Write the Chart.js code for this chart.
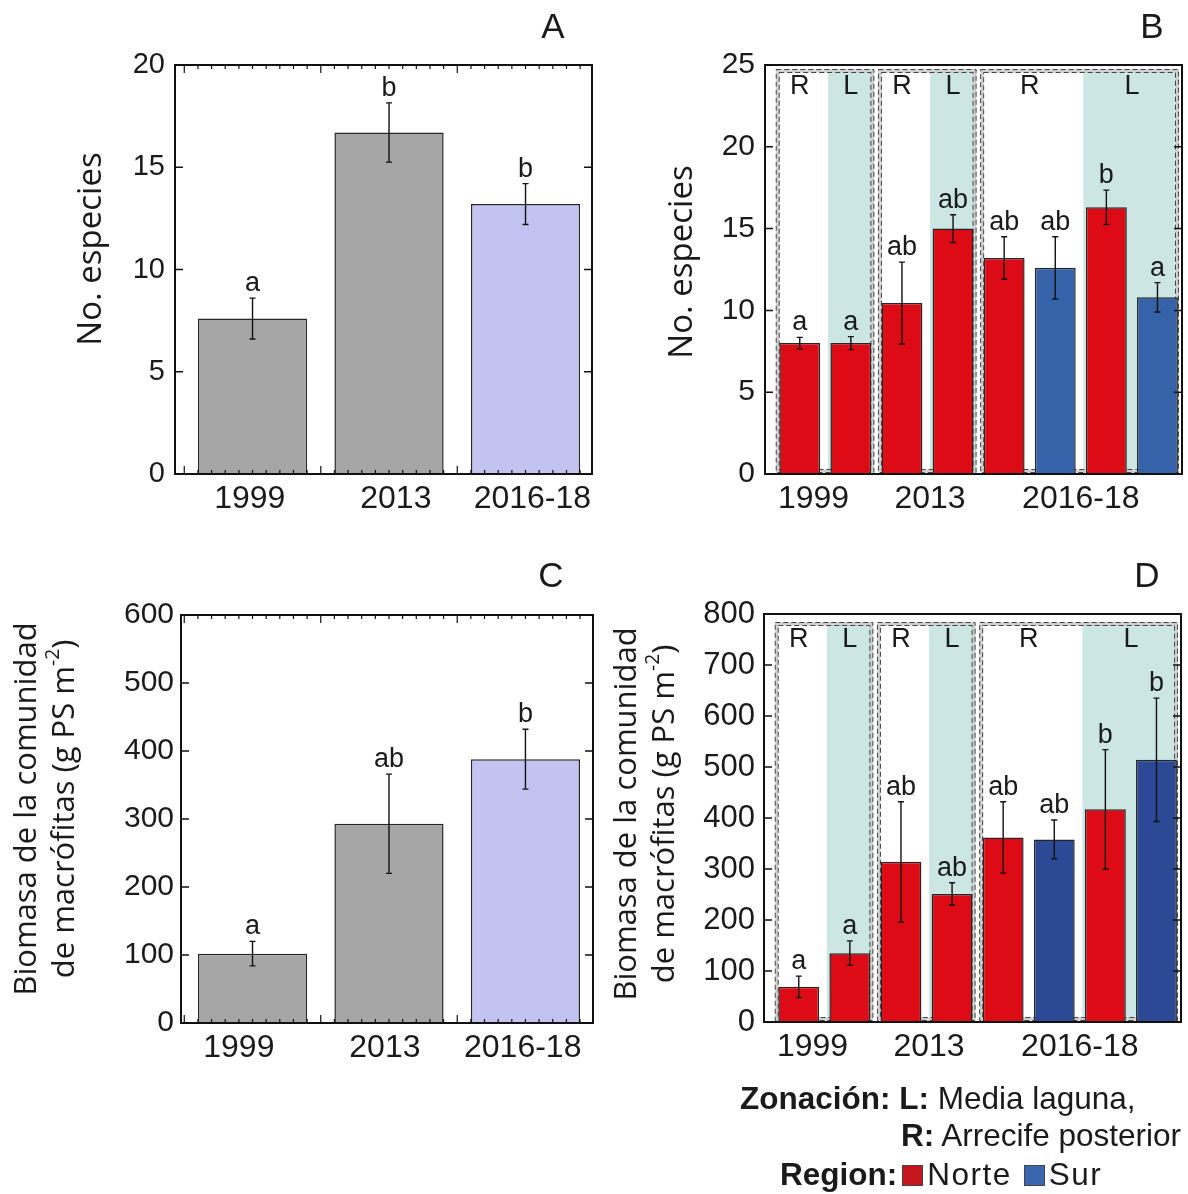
<!DOCTYPE html>
<html>
<head>
<meta charset="utf-8">
<script src="https://cdn.jsdelivr.net/npm/chart.js@4.4.1/dist/chart.umd.min.js"></script>
<style>
  html, body { margin: 0; padding: 0; background: #fff; }
  #page { position: relative; width: 1188px; height: 1194px; overflow: hidden; background: #fff; }
  #page canvas { position: absolute; }
  .leg { position: absolute; font-family: "Liberation Sans", Arial, Helvetica, sans-serif; font-size: 31.5px;
         color: #1a1a1a; white-space: nowrap; line-height: 1; }
  .leg b { font-weight: bold; }
  .sw { display: inline-block; width: 21px; height: 21px; box-sizing: border-box; border: 1px solid #444;
        vertical-align: -1px; margin: 0 4px 0 5px; }
</style>
</head>
<body>
<div id="page">
  <canvas id="panelA" width="600" height="545" style="left:0;top:0"></canvas>
  <canvas id="panelB" width="588" height="545" style="left:600px;top:0"></canvas>
  <canvas id="panelC" width="600" height="545" style="left:0;top:545px"></canvas>
  <canvas id="panelD" width="588" height="545" style="left:600px;top:545px"></canvas>

  <div class="leg" style="left:740px;top:1083px"><b>Zonación: L:</b> Media laguna,</div>
  <div class="leg" style="left:901px;top:1120px"><b>R:</b> Arrecife posterior</div>
  <div class="leg" style="left:780px;top:1159px"><b>Region:</b><span class="sw" style="background:#c4161c"></span><span style="letter-spacing:1.5px">Norte</span><span class="sw" style="background:#3a66b0;margin-left:12px"></span><span style="letter-spacing:1.5px">Sur</span></div>
</div>

<script>
// ---- Periods (panels A and C) ----
const periodLabels = ['1999', '2013', '2016-18'];

const speciesByPeriod = [7.6, 16.7, 13.2];
const speciesByPeriodSE = [1.0, 1.45, 1.0];
const speciesByPeriodLetters = ['a', 'b', 'b'];

const biomassByPeriod = [102, 293, 388];
const biomassByPeriodSE = [18, 73, 44];
const biomassByPeriodLetters = ['a', 'ab', 'b'];

// ---- Sites by period, zone and region (panels B and D) ----
const sitePeriod = ['1999', '1999', '2013', '2013', '2016-18', '2016-18', '2016-18', '2016-18'];
const siteZone   = ['R', 'L', 'R', 'L', 'R', 'R', 'L', 'L'];
const siteRegion = ['Norte', 'Norte', 'Norte', 'Norte', 'Norte', 'Sur', 'Norte', 'Sur'];

const speciesBySite = [8.0, 8.0, 10.45, 15.0, 13.2, 12.6, 16.3, 10.8];
const speciesBySiteSE = [0.35, 0.4, 2.5, 0.85, 1.3, 1.9, 1.05, 0.9];
const speciesBySiteLetters = ['a', 'a', 'ab', 'ab', 'ab', 'ab', 'b', 'a'];

const biomassBySite = [69, 135, 314, 251, 362, 358, 417, 514];
const biomassBySiteSE = [21, 24, 118, 22, 70, 38, 117, 121];
const biomassBySiteLetters = ['a', 'a', 'ab', 'ab', 'ab', 'ab', 'b', 'b'];

// ---- Axis ticks ----
const speciesTicksA = { max: 20, step: 5 };
const speciesTicksB = { max: 25, step: 5 };
const biomassTicksC = { max: 600, step: 100 };
const biomassTicksD = { max: 800, step: 100 };

// ---- Styling ----
const BODY = '"Liberation Sans", Arial, Helvetica, sans-serif';
const HUMAN = '"Open Sans", "Noto Sans", sans-serif';
const INK = '#1a1a1a';
const periodFill = ['#a6a6a6', '#a6a6a6', '#c3c3f2'];
const zoneShade = '#cce6e4';

Chart.defaults.font.family = BODY;
Chart.defaults.color = INK;

// contiguous runs of equal values -> [{value, first, last}]
function runs(arr) {
  const out = [];
  arr.forEach((v, i) => {
    const last = out[out.length - 1];
    if (last && last.value === v) last.last = i; else out.push({ value: v, first: i, last: i });
  });
  return out;
}

// draws a line of text made of segments, some of them superscript, centred on (0, y)
function drawRich(ctx, segs, y, size) {
  const parts = segs.map(s => {
    const fs = s.sup ? size * 0.62 : size;
    ctx.font = `${fs}px ${HUMAN}`;
    return { t: s.t, fs, w: ctx.measureText(s.t).width, sup: !!s.sup };
  });
  const total = parts.reduce((a, p) => a + p.w, 0);
  let cx = -total / 2;
  parts.forEach(p => {
    ctx.font = `${p.fs}px ${HUMAN}`;
    ctx.fillText(p.t, cx, p.sup ? y - size * 0.36 : y);
    cx += p.w;
  });
}

const panelDecor = {
  id: 'panelDecor',
  beforeDatasetsDraw(chart, _args, o) {
    if (!o.zones) return;
    const { ctx, chartArea: a, scales: { x } } = chart;
    const z = o.zones;
    const boxTop = a.top + z.inset;
    const boxBottom = a.bottom - 1;
    const groups = runs(z.period).map(g => {
      const left = Math.max(x.getPixelForValue(g.first + 1 - 0.47), a.left + 2);
      const right = Math.min(x.getPixelForValue(g.last + 1 + 0.46), a.right - 3);
      return { ...g, left, right };
    });
    ctx.save();
    // shaded "L" part of every period box
    groups.forEach(g => {
      for (let i = g.first; i <= g.last; i++) {
        if (z.zone[i] === 'L') {
          const sx = x.getPixelForValue(i + 1 - 0.45);
          ctx.fillStyle = zoneShade;
          ctx.fillRect(sx, boxTop, g.right - sx, boxBottom - boxTop);
          break;
        }
      }
    });
    // double dashed outline of every period box
    groups.forEach(g => {
      const w = g.right - g.left, h = boxBottom - boxTop;
      ctx.setLineDash([]);
      ctx.strokeStyle = '#cfcfcf';
      ctx.lineWidth = 3;
      ctx.strokeRect(g.left + 2, boxTop + 2, w - 4, h - 4);
      ctx.setLineDash([5, 3]);
      ctx.strokeStyle = '#444';
      ctx.lineWidth = 1;
      ctx.strokeRect(g.left + 0.5, boxTop + 0.5, w - 1, h - 1);
      ctx.strokeRect(g.left + 3.5, boxTop + 3.5, w - 7, h - 7);
    });
    ctx.setLineDash([]);
    // zone letters centred over their bars
    ctx.fillStyle = INK;
    ctx.font = `${z.labelSize}px ${BODY}`;
    ctx.textAlign = 'center';
    ctx.textBaseline = 'middle';
    groups.forEach(g => {
      runs(z.zone.slice(g.first, g.last + 1)).forEach(r => {
        const mid = g.first + (r.first + r.last) / 2 + 1;
        ctx.fillText(r.value, x.getPixelForValue(mid), a.top + z.labelOffset);
      });
    });
    ctx.restore();
  },
  afterDatasetsDraw(chart, _args, o) {
    const { ctx, chartArea: a, scales: { x, y } } = chart;
    const ds = chart.data.datasets[0];
    ctx.save();
    // error bars
    ctx.strokeStyle = '#111';
    ctx.lineWidth = 1.4;
    ds.data.forEach((d, i) => {
      const px = x.getPixelForValue(d.x);
      const t = y.getPixelForValue(d.y + o.se[i]);
      const b = y.getPixelForValue(d.y - o.se[i]);
      ctx.beginPath();
      ctx.moveTo(px, t); ctx.lineTo(px, b);
      ctx.moveTo(px - 3, t); ctx.lineTo(px + 3, t);
      ctx.moveTo(px - 3, b); ctx.lineTo(px + 3, b);
      ctx.stroke();
    });
    // significance letters
    ctx.fillStyle = INK;
    ctx.font = `${o.letterSize}px ${BODY}`;
    ctx.textAlign = 'center';
    ctx.textBaseline = 'alphabetic';
    ds.data.forEach((d, i) => {
      const px = x.getPixelForValue(d.x);
      const t = y.getPixelForValue(d.y + o.se[i]);
      ctx.fillText(o.letters[i], px, t - 7);
    });
    // frame
    ctx.strokeStyle = '#111';
    ctx.lineWidth = 2;
    ctx.strokeRect(a.left, a.top, a.right - a.left, a.bottom - a.top);
    // inward major ticks on both vertical sides
    ctx.lineWidth = 1.5;
    y.ticks.forEach(t => {
      const py = y.getPixelForValue(t.value);
      ctx.beginPath();
      ctx.moveTo(a.left, py); ctx.lineTo(a.left + 8, py);
      ctx.moveTo(a.right, py); ctx.lineTo(a.right - 8, py);
      ctx.stroke();
    });
    // minor ticks along top and bottom edges
    if (o.minorX) {
      ctx.lineWidth = 1.2;
      for (let k = Math.ceil(x.min * 10); k <= Math.floor(x.max * 10); k++) {
        const px = x.getPixelForValue(k / 10);
        const len = (k % 10 === 5) ? 8 : 4;
        ctx.beginPath();
        ctx.moveTo(px, a.bottom); ctx.lineTo(px, a.bottom - len);
        ctx.moveTo(px, a.top); ctx.lineTo(px, a.top + len);
        ctx.stroke();
      }
    }
    // panel letter
    ctx.fillStyle = INK;
    ctx.font = `35px ${BODY}`;
    ctx.textAlign = 'center';
    ctx.fillText(o.panel.text, o.panel.x, o.panel.y);
    // rotated axis title
    const tt = o.title;
    ctx.translate(tt.x, tt.y);
    ctx.rotate(-Math.PI / 2);
    ctx.textAlign = 'left';
    ctx.textBaseline = 'middle';
    tt.lines.forEach((segs, k) => drawRich(ctx, segs, (k - (tt.lines.length - 1) / 2) * tt.gap, tt.size));
    ctx.restore();
  }
};

function buildPanel(id, cfg) {
  const data = cfg.values.map((v, i) => ({ x: i + 1, y: v }));
  new Chart(document.getElementById(id), {
    type: 'bar',
    data: {
      datasets: [{
        data,
        backgroundColor: cfg.fill,
        borderColor: '#262626',
        borderWidth: 1.5,
        barPercentage: 0.8,
        categoryPercentage: 1
      }]
    },
    options: {
      responsive: false,
      animation: false,
      devicePixelRatio: 1,
      layout: { padding: { left: 0, top: cfg.area.top, right: cfg.area.right, bottom: 0 } },
      scales: {
        x: {
          type: 'linear',
          offset: false,
          min: cfg.xRange[0],
          max: cfg.xRange[1],
          grid: { display: false, drawTicks: false, offset: false },
          border: { display: false },
          afterBuildTicks: s => { s.ticks = cfg.xTickPos.map(v => ({ value: v })); },
          ticks: {
            autoSkip: false, maxRotation: 0, padding: cfg.xPad, color: INK,
            font: { family: BODY, size: cfg.xFont },
            callback: (_v, i) => cfg.xTickLabels[i]
          },
          afterFit: s => { s.height = cfg.area.xHeight; }
        },
        y: {
          min: 0,
          max: cfg.yTicks.max,
          grid: { display: false, drawTicks: false },
          border: { display: false },
          ticks: { stepSize: cfg.yTicks.step, padding: cfg.yPad, color: INK, font: { family: BODY, size: cfg.yFont } },
          afterFit: s => { s.width = cfg.area.left; }
        }
      },
      plugins: {
        legend: { display: false },
        tooltip: { enabled: false },
        panelDecor: {
          se: cfg.se,
          letters: cfg.letters,
          letterSize: 27,
          minorX: cfg.minorX,
          zones: cfg.zones || null,
          panel: cfg.panel,
          title: cfg.title
        }
      }
    },
    plugins: [panelDecor]
  });
}

const regionFillB = { Norte: '#dc0b15', Sur: '#3562a9' };
const regionFillD = { Norte: '#dc0b15', Sur: '#2c4995' };
const yearLabelPos = [1.27, 3.55, 6.5];
const speciesTitle = [[{ t: 'No. especies' }]];
const biomassTitle = [
  [{ t: 'Biomasa de la comunidad' }],
  [{ t: 'de macrófitas (g PS m' }, { t: '-2', sup: true }, { t: ')' }]
];

buildPanel('panelA', {
  values: speciesByPeriod, se: speciesByPeriodSE, letters: speciesByPeriodLetters,
  fill: periodFill, yTicks: speciesTicksA, yFont: 29, yPad: 10, xFont: 32, xPad: 6,
  xRange: [0.432, 3.487], xTickPos: [0.98, 2.05, 3.05], xTickLabels: periodLabels, minorX: true,
  area: { left: 175, top: 65, right: 8, xHeight: 71 },
  panel: { text: 'A', x: 553, y: 38 },
  title: { x: 92, y: 249, size: 33, gap: 0, lines: speciesTitle }
});

buildPanel('panelB', {
  values: speciesBySite, se: speciesBySiteSE, letters: speciesBySiteLetters,
  fill: siteRegion.map(r => regionFillB[r]), yTicks: speciesTicksB, yFont: 30, yPad: 10, xFont: 32, xPad: 6,
  xRange: [0.32, 8.48], xTickPos: yearLabelPos, xTickLabels: periodLabels, minorX: false,
  area: { left: 165, top: 65, right: 6, xHeight: 71 },
  zones: { period: sitePeriod, zone: siteZone, inset: 4, labelSize: 27, labelOffset: 22 },
  panel: { text: 'B', x: 552, y: 38 },
  title: { x: 83, y: 262, size: 33, gap: 0, lines: speciesTitle }
});

buildPanel('panelC', {
  values: biomassByPeriod, se: biomassByPeriodSE, letters: biomassByPeriodLetters,
  fill: periodFill, yTicks: biomassTicksC, yFont: 30, yPad: 7, xFont: 32, xPad: 6,
  xRange: [0.476, 3.495], xTickPos: [0.9, 1.97, 2.98], xTickLabels: periodLabels, minorX: true,
  area: { left: 181, top: 70, right: 7, xHeight: 67 },
  panel: { text: 'C', x: 551, y: 42 },
  title: { x: 46, y: 264, size: 31, gap: 38, lines: biomassTitle }
});

buildPanel('panelD', {
  values: biomassBySite, se: biomassBySiteSE, letters: biomassBySiteLetters,
  fill: siteRegion.map(r => regionFillD[r]), yTicks: biomassTicksD, yFont: 31, yPad: 9, xFont: 32, xPad: 6,
  xRange: [0.32, 8.48], xTickPos: yearLabelPos, xTickLabels: periodLabels, minorX: false,
  area: { left: 164, top: 69, right: 7, xHeight: 68 },
  zones: { period: sitePeriod, zone: siteZone, inset: 8, labelSize: 27, labelOffset: 26 },
  panel: { text: 'D', x: 547, y: 42 },
  title: { x: 46, y: 269, size: 31, gap: 38, lines: biomassTitle }
});
</script>
</body>
</html>
